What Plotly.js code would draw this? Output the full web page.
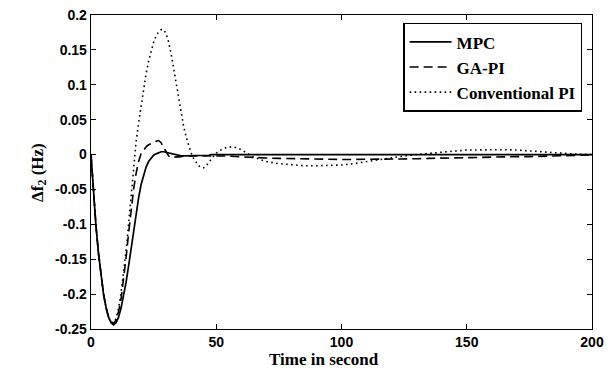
<!DOCTYPE html>
<html>
<head>
<meta charset="utf-8">
<script src="https://cdn.plot.ly/plotly-3.0.1.min.js"></script>
<style>html,body{margin:0;padding:0;background:#fff;}#chart{width:616px;height:372px;}</style>
</head>
<body>
<div id="chart"></div>
<script>
// Time grid (s)
var time = [0,1,2,3,4,5,6,7,8,9,10,11,12,13,14,15,16,17,18,19,20,21,22,23,24,25,26,27,28,29,30,
  31,32,33,34,35,36,37,38,39,40,41,42,43,44,45,46,47,48,49,50,
  52,54,56,58,60,
  65,70,75,80,85,90,95,100,105,110,115,120,125,130,135,140,145,150,155,160,165,170,175,180,185,190,195,200];

var mpc = [0,-0.055,-0.103,-0.142,-0.175,-0.2,-0.219,-0.233,-0.241,-0.244,-0.241,-0.233,-0.22,-0.203,-0.183,-0.16,-0.135,-0.11,-0.085,-0.062,-0.043,
  -0.029,-0.018,-0.01,-0.005,-0.001,0.001,0.003,0.004,0.004,0.003,
  0.002,0.001,0.0,-0.001,-0.001,-0.002,-0.002,-0.002,-0.002,-0.002,
  -0.002,-0.002,-0.001,-0.001,-0.001,-0.001,-0.001,0,0,0,
  0,0,0,0,0,
  0,0,0,0,0,0,0,0,0,0,0,0,0,0,0,0,0,0,0,0,0,0,0,0,0,0,0,0];

var gaPI = [0,-0.055,-0.103,-0.142,-0.175,-0.2,-0.219,-0.233,-0.24,-0.242,-0.237,-0.225,-0.207,-0.18,-0.148,-0.113,-0.08,-0.05,-0.027,-0.01,0.001,
  0.007,0.011,0.014,0.016,0.018,0.019,0.02,0.017,0.01,0.003,
  -0.002,-0.004,-0.004,-0.004,-0.003,-0.003,-0.002,-0.002,-0.001,-0.001,
  -0.001,-0.001,-0.001,-0.001,-0.001,-0.001,-0.001,-0.001,-0.001,-0.001,
  -0.0015,-0.002,-0.0025,-0.003,-0.003,
  -0.004,-0.005,-0.0055,-0.006,-0.0065,-0.007,-0.007,-0.007,-0.007,-0.007,-0.007,-0.0065,-0.006,-0.006,-0.0055,-0.005,-0.005,-0.0045,-0.004,-0.004,-0.0035,-0.003,-0.003,-0.0025,-0.002,-0.0015,-0.001,-0.0005];

var convPI = [0,-0.055,-0.103,-0.142,-0.175,-0.2,-0.219,-0.233,-0.24,-0.241,-0.235,-0.22,-0.198,-0.17,-0.138,-0.1,-0.06,-0.018,0.018,0.045,0.07,
  0.094,0.116,0.134,0.149,0.161,0.17,0.176,0.179,0.179,0.173,
  0.161,0.144,0.123,0.1,0.078,0.058,0.04,0.025,0.012,0.002,
  -0.006,-0.012,-0.016,-0.019,-0.019,-0.016,-0.011,-0.006,-0.002,0.002,
  0.007,0.01,0.011,0.01,0.007,
  -0.004,-0.01,-0.013,-0.015,-0.016,-0.016,-0.016,-0.015,-0.013,-0.01,-0.007,-0.005,-0.002,0.0,0.002,0.004,0.005,0.0065,0.007,0.007,0.007,0.0065,0.005,0.004,0.003,0.0015,0.0005,0.0];

var seriesNames = ['MPC', 'GA-PI', 'Conventional PI'];
var xTickVals = [0, 50, 100, 150, 200];
var xTickText = ['0', '50', '100', '150', '200'];
var yTickVals = [-0.25, -0.2, -0.15, -0.1, -0.05, 0, 0.05, 0.1, 0.15, 0.2];
var yTickText = ['-0.25', '-0.2', '-0.15', '-0.1', '-0.05', '0', '0.05', '0.1', '0.15', '0.2'];
var xTitle = 'Time in second';
var yTitle = '\u0394f<sub>2</sub> (Hz)';

var serif = 'Liberation Serif, Times New Roman, serif';
var sans = 'Liberation Sans, Arial, sans-serif';
function bold(arr) { return arr.map(function (s) { return '<b>' + s + '</b>'; }); }

var traces = [
  {x: time, y: mpc, name: '<b>' + seriesNames[0] + '</b>', mode: 'lines', line: {color: '#000', width: 1.7, dash: 'solid'}},
  {x: time, y: gaPI, name: '<b>' + seriesNames[1] + '</b>', mode: 'lines', line: {color: '#000', width: 1.6, dash: '9px,5px'}},
  {x: time, y: convPI, name: '<b>' + seriesNames[2] + '</b>', mode: 'lines', line: {color: '#000', width: 1.6, dash: '1.6px,3.4px'}}
];

var axisCommon = {
  showline: true, linecolor: '#000', linewidth: 1.3, mirror: 'ticks',
  ticks: 'inside', ticklen: 5, tickwidth: 1, tickcolor: '#000',
  showgrid: false, zeroline: false,
  tickfont: {family: sans, size: 14, color: '#000'}
};

var layout = {
  width: 616, height: 372,
  margin: {l: 91, r: 24, t: 15, b: 43},
  paper_bgcolor: '#fff', plot_bgcolor: '#fff',
  showlegend: true,
  xaxis: Object.assign({}, axisCommon, {range: [0, 200], tickmode: 'array', tickvals: xTickVals, ticktext: bold(xTickText)}),
  yaxis: Object.assign({}, axisCommon, {range: [-0.25, 0.2], tickmode: 'array', tickvals: yTickVals, ticktext: bold(yTickText)}),
  legend: {
    x: 0.623, y: 0.975, xanchor: 'left', yanchor: 'top',
    bgcolor: '#fff', bordercolor: '#000', borderwidth: 1.5,
    font: {family: serif, size: 17, color: '#000'},
    itemwidth: 42,
    tracegroupgap: 0
  },
  annotations: [
    {text: '<b>' + xTitle + '</b>', xref: 'paper', yref: 'paper', x: 0.465, y: -0.097, xanchor: 'center', yanchor: 'middle',
     showarrow: false, font: {family: serif, size: 17, color: '#000'}},
    {text: '<b>' + yTitle + '</b>', xref: 'paper', yref: 'paper', x: -0.104, y: 0.5, xanchor: 'center', yanchor: 'middle',
     textangle: -90, showarrow: false, font: {family: serif, size: 17, color: '#000'}}
  ]
};

Plotly.newPlot('chart', traces, layout, {staticPlot: true, displayModeBar: false});
</script>
</body>
</html>
